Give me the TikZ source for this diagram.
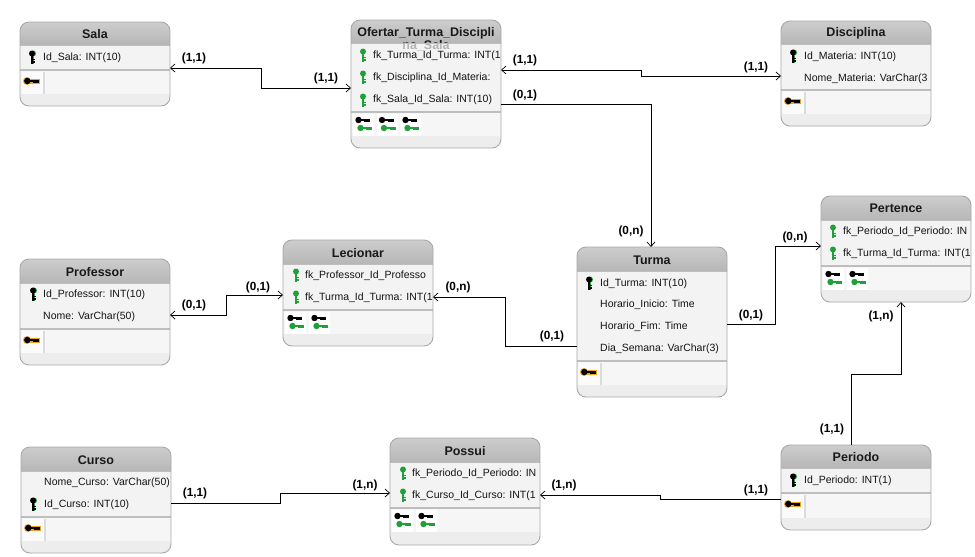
\documentclass[tikz,border=0pt]{standalone}
\usepackage{fontspec}
\setmainfont{Liberation Sans}
\usetikzlibrary{arrows.meta,calc}
\definecolor{hdrA}{HTML}{CDCDCD}
\definecolor{hdrB}{HTML}{B6B6B6}
\definecolor{bodyc}{HTML}{F6F6F6}
\definecolor{rowc}{HTML}{F6F6F6}
\definecolor{stripc}{HTML}{EDEDED}
\definecolor{edgec}{HTML}{A9A9A9}
\definecolor{sepc}{HTML}{BEBEBE}
\definecolor{keygreen}{HTML}{1FA13A}
\definecolor{keyorange}{HTML}{F0A020}
\tikzset{
  x=1pt,y=-1pt,
  tblbox/.style={draw=edgec,line width=.9pt,rounded corners=9pt,minimum width=150pt,inner sep=0pt,outer sep=0pt},
  ttl/.style={font=\fontsize{12.5}{12.5}\selectfont\bfseries,text=black!90,inner sep=0pt},
  rowtxt/.style={font=\fontsize{10.5}{10.5}\selectfont,text=black!92,anchor=west,inner sep=0pt,yshift=-.8pt},
  card/.style={font=\fontsize{11.8}{11.8}\selectfont\bfseries,text=black,inner sep=0pt},
  conn/.style={draw=black,line width=.8pt},
  tip/.style={-{Straight Barb[length=4.5pt,width=8pt,line width=.7pt]}},
  tips/.style={{Straight Barb[length=4.5pt,width=8pt,line width=.7pt]}-{Straight Barb[length=4.5pt,width=8pt,line width=.7pt]}},
}
% x, top, header bottom, separator, row bottom, bottom, extra
\newcommand\tblbg[7]{%
  \begin{scope}
    \clip[rounded corners=9pt] (#1,#2) rectangle (#1+150,#6);
    \fill[stripc] (#1,#2) rectangle (#1+150,#6);
    \shade[top color=hdrA,bottom color=hdrB] (#1,#2) rectangle (#1+150,#3);
    #7
    \fill[bodyc,fill opacity=.7] (#1,#3) rectangle (#1+150,#4);
    \fill[rowc] (#1,#4) rectangle (#1+150,#5);
    \draw[sepc,line width=.9pt] (#1,#3) -- (#1+150,#3);
    \draw[sepc,line width=1.8pt] (#1,#4) -- (#1+150,#4);
  \end{scope}}
\newcommand\vkey[3]{% x,y,colour
  \fill[#3] (#1,#2-3.5) circle (3);
  \fill[#3] (#1-1.3,#2-3) rectangle (#1+1.3,#2+6.5);
  \fill[#3] (#1+1,#2+2) rectangle (#1+2.6,#2+3.4);
  \fill[#3] (#1+1,#2+4.4) rectangle (#1+2.6,#2+5.8);}
\newcommand\pkicon[2]{%
  \fill[keygreen] (#1+1,#2-3.5) circle (3);
  \fill[keygreen] (#1,#2-3) rectangle (#1+2.4,#2+6.5);
  \vkey{#1}{#2}{black}}
\newcommand\hkey[3]{% left x, y, colour
  \fill[#3] (#1+3.5,#2) circle (3.2);
  \fill[#3] (#1+3.5,#2-1.3) rectangle (#1+15,#2+1.3);
  \fill[#3] (#1+9,#2) rectangle (#1+15,#2+2.2);}
\newcommand\pkcell[3]{% x, sep, rowbottom
  \fill[white!80!stripc] (#1+2,#2+1.5) rectangle (#1+23,#3);
  \fill[sepc!55] (#1+23,#2+1.5) rectangle (#1+25,#3);
  \fill[keyorange] (#1+7,#2+11) circle (4);
  \fill[keyorange] (#1+7,#2+8.6) rectangle (#1+20.3,#2+13.8);
  \hkey{#1+3.8}{#2+11}{black}}
\newcommand\fkcell[3]{% left x of cell, sep, rowbottom
  \fill[white] (#1,#2+1.5) rectangle (#1+21,#3);
  \hkey{#1+2}{#2+8}{black}
  \hkey{#1+4}{#2+16}{keygreen}}
\begin{document}
\begin{tikzpicture}
\useasboundingbox (0,0) rectangle (975,557);
\fill[white] (0,0) rectangle (975,557);

% Sala
\tblbg{20}{22}{45}{70}{94}{106}{}
\pkcell{20}{70}{94}
\node[tblbox,minimum height=84pt] (sala) at (95,64) {};
\node[ttl] (salaT) at (95,34) {Sala};
\pkicon{32}{57}
\node[rowtxt] (salaA) at (43,57) {Id\_Sala: INT(10)};

% Ofertar
\tblbg{351}{20}{43}{112}{136}{148}{\node[ttl] (ofTb) at (426,46) {na\_Sala};}
\fkcell{353}{112}{136}\fkcell{376.5}{112}{136}\fkcell{400}{112}{136}
\node[tblbox,minimum height=128pt] (of) at (426,84) {};
\node[ttl] (ofT) at (426,33) {Ofertar\_Turma\_Discipli};
\vkey{363}{55}{keygreen}\vkey{363}{77}{keygreen}\vkey{363}{100}{keygreen}
\node[rowtxt] (ofA) at (373,55) {fk\_Turma\_Id\_Turma: INT(1};
\node[rowtxt] (ofB) at (373,77) {fk\_Disciplina\_Id\_Materia:};
\node[rowtxt] (ofC) at (373,99) {fk\_Sala\_Id\_Sala: INT(10)};

% Disciplina
\tblbg{781}{21}{44}{90}{114}{126}{}
\pkcell{781}{90}{114}
\node[tblbox,minimum height=105pt] (dis) at (856,73.5) {};
\node[ttl] (disT) at (856,33) {Disciplina};
\pkicon{793}{56}
\node[rowtxt] (disA) at (804,56) {Id\_Materia: INT(10)};
\node[rowtxt] (disB) at (804,78) {Nome\_Materia: VarChar(3};

% Pertence
\tblbg{821}{196}{220}{266}{290}{302}{}
\fkcell{823}{266}{290}\fkcell{847}{266}{290}
\node[tblbox,minimum height=106pt] (per) at (896,249) {};
\node[ttl] (perT) at (896,208) {Pertence};
\vkey{833}{231}{keygreen}\vkey{833}{253}{keygreen}
\node[rowtxt] (perA) at (843,231) {fk\_Periodo\_Id\_Periodo: IN};
\node[rowtxt] (perB) at (843,253) {fk\_Turma\_Id\_Turma: INT(1};

% Turma
\tblbg{577}{247}{271}{361}{385}{397}{}
\pkcell{577}{361}{385}
\node[tblbox,minimum height=150pt] (tur) at (652,322) {};
\node[ttl] (turT) at (652,260) {Turma};
\pkicon{589}{283}
\node[rowtxt] (turA) at (600,283) {Id\_Turma: INT(10)};
\node[rowtxt] (turB) at (600,304) {Horario\_Inicio: Time};
\node[rowtxt] (turC) at (600,326) {Horario\_Fim: Time};
\node[rowtxt] (turD) at (600,348) {Dia\_Semana: VarChar(3)};

% Lecionar
\tblbg{283}{240}{264}{310}{334}{346}{}
\fkcell{285}{310}{334}\fkcell{309}{310}{334}
\node[tblbox,minimum height=106pt] (lec) at (358,293) {};
\node[ttl] (lecT) at (358,253) {Lecionar};
\vkey{296}{275}{keygreen}\vkey{296}{297}{keygreen}
\node[rowtxt] (lecA) at (305,275) {fk\_Professor\_Id\_Professo};
\node[rowtxt] (lecB) at (305,297) {fk\_Turma\_Id\_Turma: INT(1};

% Professor
\tblbg{20}{259}{283}{329}{353}{365}{}
\pkcell{20}{329}{353}
\node[tblbox,minimum height=106pt] (pro) at (95,312) {};
\node[ttl] (proT) at (95,272) {Professor};
\pkicon{33}{294}
\node[rowtxt] (proA) at (43,294) {Id\_Professor: INT(10)};
\node[rowtxt] (proB) at (43,316) {Nome: VarChar(50)};

% Curso
\tblbg{21}{447}{471}{517}{541}{553}{}
\pkcell{21}{517}{541}
\node[tblbox,minimum height=106pt] (cur) at (96,500) {};
\node[ttl] (curT) at (96,460) {Curso};
\pkicon{33}{504}
\node[rowtxt] (curA) at (44,482) {Nome\_Curso: VarChar(50)};
\node[rowtxt] (curB) at (44,504) {Id\_Curso: INT(10)};

% Possui
\tblbg{390}{438}{462}{508}{532}{545}{}
\fkcell{392}{508}{532}\fkcell{416}{508}{532}
\node[tblbox,minimum height=107pt] (pos) at (465,491.5) {};
\node[ttl] (posT) at (465,451) {Possui};
\vkey{403}{473}{keygreen}\vkey{403}{495}{keygreen}
\node[rowtxt] (posA) at (412,473) {fk\_Periodo\_Id\_Periodo: IN};
\node[rowtxt] (posB) at (412,495) {fk\_Curso\_Id\_Curso: INT(1};

% Periodo
\tblbg{781}{445}{468}{493}{518}{530}{}
\pkcell{781}{493}{518}
\node[tblbox,minimum height=85pt] (prd) at (856,487.5) {};
\node[ttl] (prdT) at (856,457) {Periodo};
\pkicon{793}{480}
\node[rowtxt] (prdA) at (804,480) {Id\_Periodo: INT(1)};

% Connectors
\draw[conn,tips] (of.west |- 0,88) -- (261,88) -- (261,68) -- (sala.east |- 0,68);
\draw[conn,tips] (dis.west |- 0,76) -- (641,76) -- (641,70) -- (of.east |- 0,70);
\draw[conn,tip] (of.east |- 0,104) -- (651,104) -- (651,104 |- tur.north);
\draw[conn,tip] (tur.east |- 0,324) -- (775,324) -- (775,246) -- (per.west |- 0,246);
\draw[conn,tip] (851,445 |- prd.north) -- (851,374) -- (901,374) -- (901,0 |- per.south);
\draw[conn,tip] (tur.west |- 0,346) -- (505,346) -- (505,297) -- (lec.east |- 0,297);
\draw[conn,tips] (lec.west |- 0,295) -- (226,295) -- (226,315) -- (pro.east |- 0,315);
\draw[conn,tip] (cur.east |- 0,503) -- (280,503) -- (280,493) -- (pos.west |- 0,493);
\draw[conn,tip] (prd.west |- 0,499) -- (660,499) -- (660,495) -- (pos.east |- 0,495);

% Cardinalities
\node[card] (c1) at (194,58) {(1,1)};
\node[card] (c2) at (326,78) {(1,1)};
\node[card] (c3) at (525,60) {(1,1)};
\node[card] (c4) at (756,67) {(1,1)};
\node[card] (c5) at (525,95) {(0,1)};
\node[card] (c6) at (631,231) {(0,n)};
\node[card] (c7) at (795,237) {(0,n)};
\node[card] (c8) at (751,315) {(0,1)};
\node[card] (c9) at (881,316) {(1,n)};
\node[card] (c10) at (832,429) {(1,1)};
\node[card] (c11) at (458,287) {(0,n)};
\node[card] (c12) at (552,336) {(0,1)};
\node[card] (c13) at (194,305) {(0,1)};
\node[card] (c14) at (258,287) {(0,1)};
\node[card] (c15) at (195,493) {(1,1)};
\node[card] (c16) at (365,485) {(1,n)};
\node[card] (c17) at (564,485) {(1,n)};
\node[card] (c18) at (756,490) {(1,1)};
\end{tikzpicture}
\end{document}
